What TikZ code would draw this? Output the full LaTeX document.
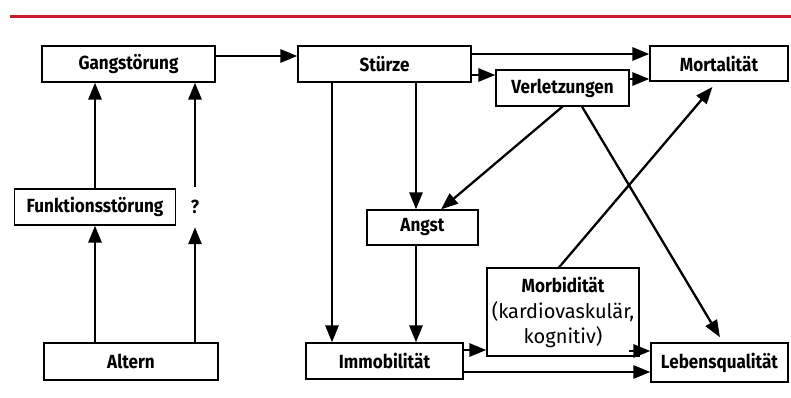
\documentclass[tikz,border=0pt]{standalone}
\usepackage{fontspec}
\setmainfont{Fira Sans}[FakeStretch=0.9]
\newfontfamily\plainfont{Fira Sans}
\usepackage{tikz}
\usetikzlibrary{arrows.meta}
\definecolor{ruleRed}{RGB}{200,30,45}

\begin{document}
\begin{tikzpicture}[x=1pt, y=-1pt, >={Triangle[length=17pt,width=13pt]},
  font=\fontsize{19}{25}\selectfont,
  box/.style={draw, line width=1.2pt, inner sep=0pt, font=\fontsize{19}{25}\selectfont\bfseries},
  conn/.style={->, line width=2.8pt}]
\useasboundingbox (0,0) rectangle (791,398);
\draw[ruleRed, line width=2.2pt] (10,16.5) -- (791,16.5);

% boxes
\node[box, minimum width=173pt, minimum height=36pt] (gang) at (128.5,64) {Gangstörung};
\node[box, minimum width=173pt, minimum height=36pt] (stuerze) at (384.5,64) {Stürze};
\node[box, minimum width=138pt, minimum height=35pt] (mort) at (719,63.5) {Mortalität};
\node[box, minimum width=133pt, minimum height=36pt] (verl) at (562.5,88) {Verletzungen};
\node[box, minimum width=161pt, minimum height=36pt] (funk) at (95,207) {Funktionsstörung};
\node[font=\fontsize{19}{25}\selectfont\bfseries, minimum height=40pt, inner sep=0pt] (frage) at (195,207) {?};
\node[box, minimum width=174pt, minimum height=37pt] (altern) at (131,361.5) {Altern};
\node[box, minimum width=157pt, minimum height=36pt] (immob) at (384.5,361) {Immobilität};
\node[box, minimum width=111pt, minimum height=35pt] (angst) at (422.5,227.5) {Angst};
\node[box, minimum width=152pt, minimum height=88pt, align=center] (morb) at (563,312)
  {Morbidität\\[1pt]\plainfont\mdseries\fontsize{20}{25}\selectfont(kardiovaskulär,\\\plainfont\mdseries\fontsize{20}{25}\selectfont kognitiv)};
\node[box, minimum width=137pt, minimum height=39pt] (leben) at (719.5,362.5) {Lebensqualität};

% left part
\draw[conn] ([yshift=8]gang.east) -- ([yshift=8]stuerze.west);
\draw[conn] (altern.north -| funk.south) -- (funk.south);
\draw[conn] (funk.north) -- (funk.north |- gang.south);
\draw[conn] (altern.north -| frage.south) -- (frage.south);
\draw[conn] (frage.north) -- (frage.north |- gang.south);

% right part
\draw[conn] ([yshift=10]stuerze.east) -- ([yshift=9.5]mort.west);
\draw[conn] ([yshift=-11]stuerze.east) -- ([yshift=13]verl.west);
\draw[conn] ([yshift=9]verl.east) -- ([yshift=-15.5]mort.west);
\draw[conn] ([xshift=-52.5]stuerze.south) -- ([xshift=-52.5]immob.north);
\draw[conn] ([xshift=31.5]stuerze.south) -- ([xshift=-6.5]angst.north);
\draw[conn, line width=2.3pt] (verl.south) -- ([xshift=18.5]angst.north);
\draw[conn, line width=2.3pt, shorten >=6pt] ([xshift=19.5]verl.south) -- ([xshift=3.5]leben.north);
\draw[conn, line width=2.3pt, shorten >=7pt] ([xshift=-4]morb.north) -- ([xshift=-2]mort.south);
\draw[conn] ([xshift=-6.5]angst.south) -- ([xshift=31.5]immob.north);
\draw[conn] ([yshift=11]immob.east) -- ([yshift=-38]morb.west);
\draw[conn] ([xshift=-11,yshift=-39]morb.east) -- ([yshift=11.5]leben.west);
\draw[conn] ([yshift=-11]immob.east) -- ([yshift=-9.5]leben.west);
\end{tikzpicture}
\end{document}
